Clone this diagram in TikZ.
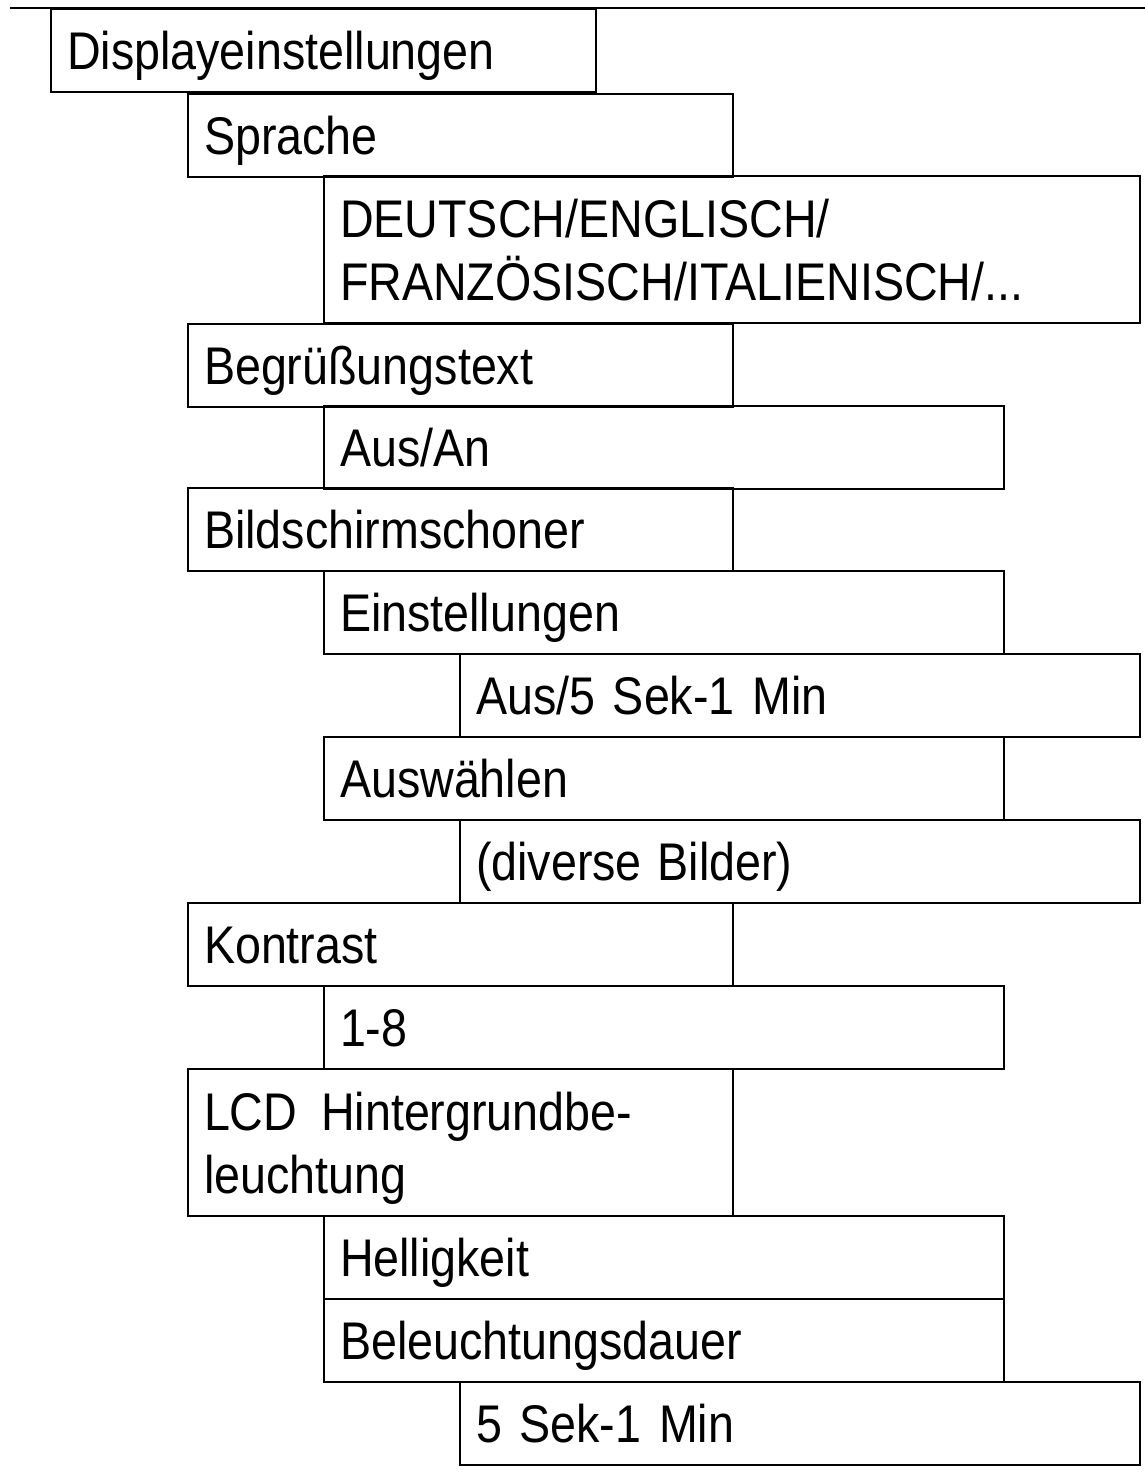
\documentclass[tikz,border=0pt]{standalone}
\usepackage{fontspec}
\setmainfont{Liberation Sans}[FakeStretch=0.88, WordSpace=0.75]
\usepackage{tikz}

\tikzset{
  menubox/.style={draw, line width=1pt, anchor=north west, align=left,
    inner xsep=8pt, inner ysep=0pt, minimum height=41.5pt,
    text height=24.5pt, text depth=5.5pt,
    font=\fontsize{26.5}{31.5}\selectfont},
  shortbox/.style={menubox, minimum width=272.5pt, text width=256.5pt},
  longbox/.style={menubox, minimum width=340pt, text width=324pt},
  widebox/.style={menubox, minimum width=408pt, text width=392pt},
  twoline/.style={minimum height=73.5pt, text depth=37pt}
}

\begin{document}
\begin{tikzpicture}[x=0.5pt, y=-0.5pt]
\useasboundingbox (0,0) rectangle (1145,1473);

% top line
\draw[line width=1pt] (10,8) -- (1145,8);

% boxes
\node[shortbox] (display) at (50,8) {Displayeinstellungen};
\node[shortbox] (sprache) at (187,93) {Sprache};
\node[widebox, twoline] (sprachen) at (323,175) {DEUTSCH/ENGLISCH/\\FRANZÖSISCH/ITALIENISCH/...};
\node[shortbox] (gruss) at (187,323) {Begrüßungstext};
\node[longbox] (gruss-an) at (323,405) {Aus/An};
\node[shortbox] (schoner) at (187,487) {Bildschirmschoner};
\node[longbox] (schoner-einst) at (323,570) {Einstellungen};
\node[longbox] (schoner-zeit) at (459,653) {Aus/5 Sek-1 Min};
\node[longbox] (schoner-wahl) at (323,736) {Auswählen};
\node[longbox] (schoner-bild) at (459,819) {(diverse\hspace{0.3em}Bilder)};
\node[shortbox] (kontrast) at (187,902) {Kontrast};
\node[longbox] (kontrast-wert) at (323,985) {1-8};
\node[shortbox, twoline] (lcd) at (187,1068) {LCD\hspace{0.45em}Hintergrundbe-\\leuchtung};
\node[longbox] (lcd-hell) at (323,1215) {Helligkeit};
\node[longbox] (lcd-dauer) at (323,1298) {Beleuchtungsdauer};
\node[longbox] (lcd-zeit) at (459,1381) {5 Sek-1 Min};

\end{tikzpicture}
\end{document}
